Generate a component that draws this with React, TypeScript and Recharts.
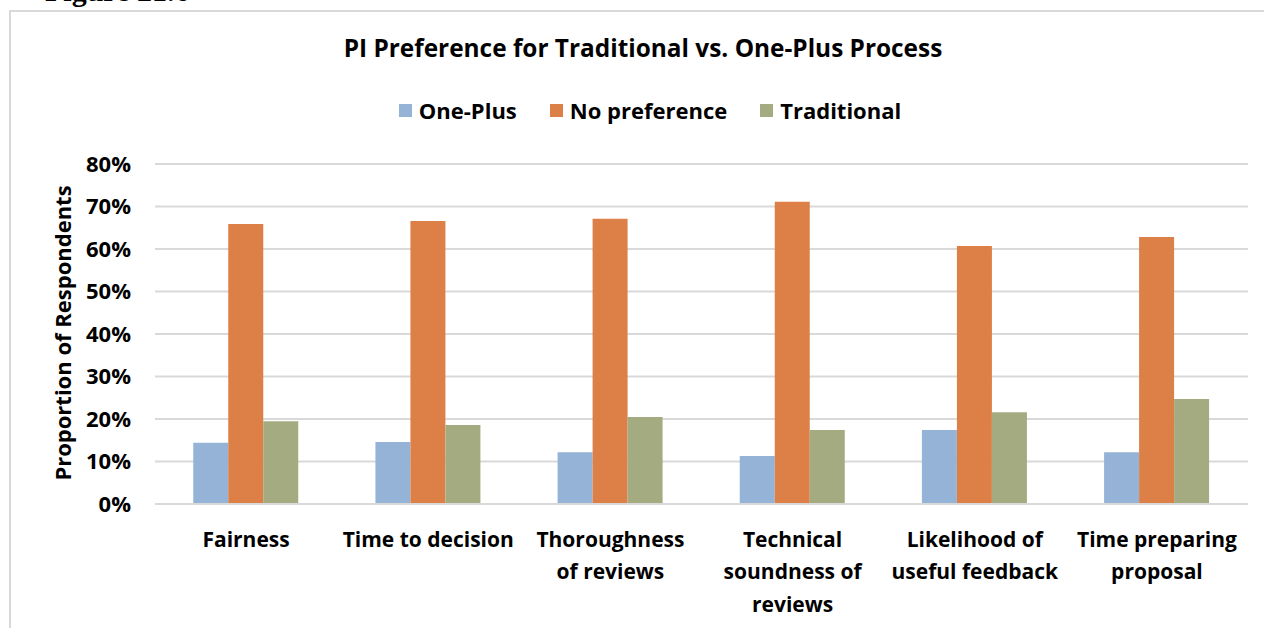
import React from 'react';
import { BarChart, Bar, XAxis, YAxis, CartesianGrid, Legend } from 'recharts';

const categories = [
  'Fairness',
  'Time to decision',
  'Thoroughness\nof reviews',
  'Technical\nsoundness of\nreviews',
  'Likelihood of\nuseful feedback',
  'Time preparing\nproposal',
];
const onePlus = [14.4, 14.6, 12.2, 11.3, 17.4, 12.2];
const noPreference = [65.9, 66.6, 67.1, 71.1, 60.7, 62.8];
const traditional = [19.5, 18.6, 20.5, 17.4, 21.6, 24.7];
const yTicks = [0, 10, 20, 30, 40, 50, 60, 70, 80];
const seriesNames = ['One-Plus', 'No preference', 'Traditional'];
const seriesColors = ['#95B3D7', '#DD8047', '#A5AB80'];

const data = categories.map((c, i) => ({
  category: c,
  onePlus: onePlus[i],
  noPreference: noPreference[i],
  traditional: traditional[i],
}));

const FONT = '"Open Sans", Lato, sans-serif';

const XTick = (props: any) => {
  const { x, y, payload } = props;
  const lines = String(payload.value).split('\n');
  return (
    <g transform={`translate(${x},${y})`}>
      {lines.map((l, i) => (
        <text
          key={i}
          x={0}
          y={i * 32.5}
          dy={34.5}
          textAnchor="middle"
          fill="#000"
          fontFamily={FONT}
          fontWeight={700}
          fontSize={21}
        >
          {l}
        </text>
      ))}
    </g>
  );
};

const renderLegend = () => (
  <div
    style={{
      display: 'flex',
      justifyContent: 'center',
      alignItems: 'center',
      fontFamily: FONT,
      fontWeight: 700,
      fontSize: 22,
      lineHeight: '30px',
      color: '#000',
      whiteSpace: 'nowrap',
    }}
  >
    {seriesNames.map((n, i) => (
      <div key={n} style={{ display: 'flex', alignItems: 'center', marginRight: i < 2 ? 33 : 0 }}>
        <span style={{ width: 13, height: 13, background: seriesColors[i], display: 'inline-block', marginRight: 7 }} />
        <span>{n}</span>
      </div>
    ))}
  </div>
);

export default function App() {
  return (
    <div style={{ position: 'absolute', left: 0, top: 0, width: 1264, height: 628, overflow: 'hidden', background: '#fff' }}>
      <div
        style={{
          position: 'absolute',
          left: 45,
          top: -24,
          fontFamily: '"Liberation Serif", serif',
          fontWeight: 700,
          fontSize: 30,
          lineHeight: '30px',
          whiteSpace: 'nowrap',
        }}
      >
        Figure 21.6
      </div>
      <div
        style={{
          position: 'absolute',
          left: 9,
          top: 10,
          width: 1400,
          height: 800,
          borderTop: '2px solid #D9D9D9',
          borderLeft: '2px solid #D9D9D9',
        }}
      />
      <div
        style={{
          position: 'absolute',
          left: 243,
          top: 31,
          width: 800,
          textAlign: 'center',
          fontFamily: FONT,
          fontWeight: 700,
          fontSize: 24.4,
          lineHeight: '33px',
          whiteSpace: 'nowrap',
        }}
      >
        PI Preference for Traditional vs. One-Plus Process
      </div>
      <div
        style={{
          position: 'absolute',
          left: 62,
          top: 333,
          transform: 'translate(-50%, -50%) rotate(-90deg)',
          fontFamily: FONT,
          fontWeight: 700,
          fontSize: 22,
          lineHeight: '30px',
          whiteSpace: 'nowrap',
        }}
      >
        Proportion of Respondents
      </div>
      <div style={{ position: 'absolute', left: 0, top: 0 }}>
        <BarChart
          width={1264}
          height={628}
          data={data}
          margin={{ top: 164, right: 16, bottom: 94, left: 55 }}
          barCategoryGap="21%"
          barGap={0}
        >
          <CartesianGrid vertical={false} stroke="#D9D9D9" strokeWidth={2} />
          <XAxis
            dataKey="category"
            height={30}
            axisLine={{ stroke: '#D9D9D9', strokeWidth: 2 }}
            tickLine={false}
            interval={0}
            tick={<XTick />}
          />
          <YAxis
            width={100}
            domain={[0, 80]}
            ticks={yTicks}
            tickFormatter={(v: number) => `${v}%`}
            axisLine={false}
            tickLine={false}
            tickSize={0}
            tickMargin={24}
            tick={{ fill: '#000', fontFamily: FONT, fontWeight: 700, fontSize: 22 }}
          />
          <Legend
            verticalAlign="middle"
            align="center"
            wrapperStyle={{ top: 95, left: 250, width: 800, height: 30 }}
            content={renderLegend}
          />
          <Bar dataKey="onePlus" name={seriesNames[0]} fill={seriesColors[0]} isAnimationActive={false} />
          <Bar dataKey="noPreference" name={seriesNames[1]} fill={seriesColors[1]} isAnimationActive={false} />
          <Bar dataKey="traditional" name={seriesNames[2]} fill={seriesColors[2]} isAnimationActive={false} />
        </BarChart>
      </div>
    </div>
  );
}
